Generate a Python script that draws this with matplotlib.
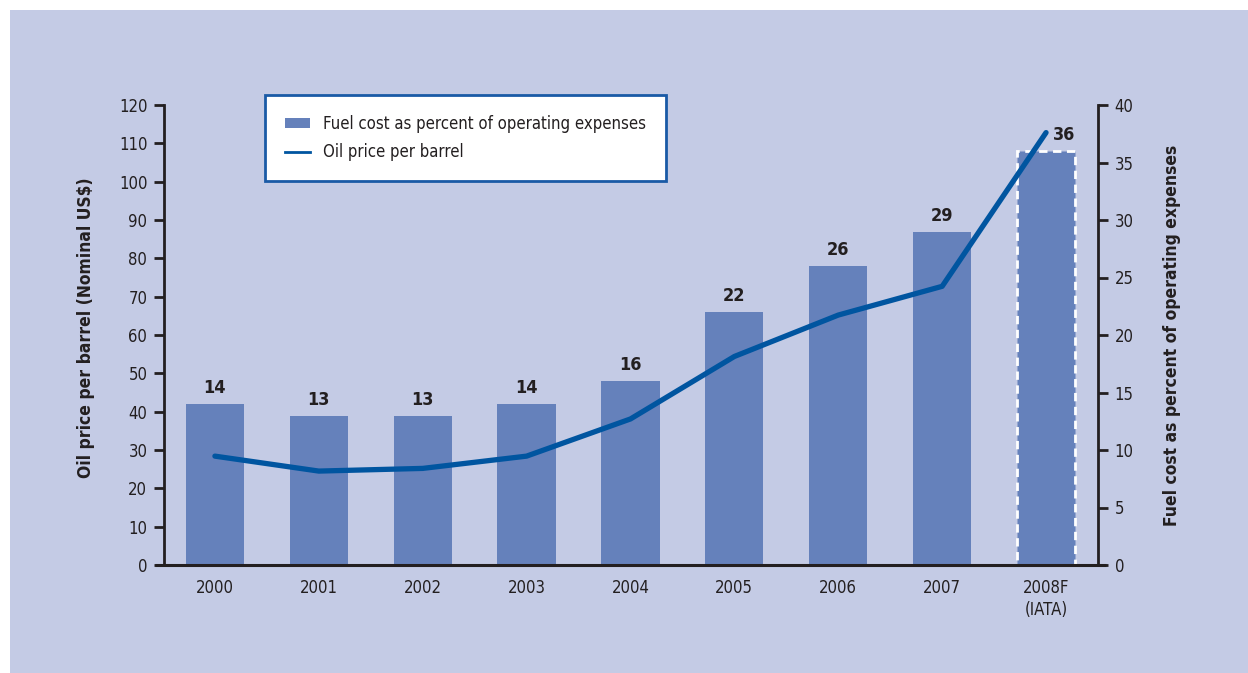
import matplotlib.pyplot as plt
from matplotlib.patches import Rectangle, Patch
from matplotlib.lines import Line2D

plt.rcParams['font.family'] = ['DejaVu Sans']
plt.rcParams['font.stretch'] = 'condensed'

years = ['2000', '2001', '2002', '2003', '2004', '2005', '2006', '2007', '2008F\n(IATA)']
fuel_pct = [14, 13, 13, 14, 16, 22, 26, 29, 36]
oil_price = [28.4, 24.5, 25.2, 28.4, 38.1, 54.4, 65.2, 72.7, 112.8]

bg = '#c4cbe5'
bar_col = '#6581bb'
line_col = '#0055a0'
ink = '#231f20'

fig = plt.figure(figsize=(12.48, 6.73), dpi=100)
fig.patch.set_facecolor('white')
fig.patches.append(Rectangle((10 / 1248, 0), 1, 1 - 10 / 673, transform=fig.transFigure,
                             facecolor=bg, edgecolor='none', zorder=-10))

ax = fig.add_axes([164 / 1248, 108 / 673, (1098 - 164) / 1248, (565 - 105) / 673])
ax.set_facecolor('none')
ax2 = ax.twinx()
ax2.set_zorder(0)
ax.set_zorder(1)

x = list(range(len(years)))

# bars on the right axis
bars = ax2.bar(x, fuel_pct, width=0.56, color=bar_col, zorder=1)
bars[-1].set_edgecolor('white')
bars[-1].set_linestyle((0, (3, 2)))
bars[-1].set_linewidth(2)
for xi, v in zip(x, fuel_pct):
    dx = 0.17 if xi == x[-1] else 0
    ax2.text(xi + dx, v + 0.6, str(v), ha='center', va='bottom', fontsize=13,
             fontweight='bold', color=ink)

ax.plot(x, oil_price, color=line_col, lw=3.8, solid_capstyle='round',
        solid_joinstyle='round', zorder=3)

ax.set_xlim(-0.49, 8.5)
ax.set_ylim(0, 120)
ax2.set_ylim(0, 40)
ax.set_yticks(range(0, 121, 10))
ax2.set_yticks(range(0, 41, 5))
ax.set_xticks(x)
ax.set_xticklabels(years, fontsize=12, color=ink, linespacing=1.3)
ax.tick_params(axis='x', length=0, pad=10)

for a in (ax, ax2):
    a.spines['top'].set_visible(False)
    a.tick_params(axis='y', length=7, width=2, color=ink, labelsize=12,
                  labelcolor=ink, pad=5)
ax.spines['right'].set_visible(False)
ax2.spines['left'].set_visible(False)
ax2.spines['bottom'].set_visible(False)
ax.spines['left'].set_linewidth(2)
ax.spines['left'].set_color(ink)
ax2.spines['right'].set_linewidth(2)
ax2.spines['right'].set_color(ink)
ax.spines['bottom'].set_visible(False)
# baseline extended to the outer tick ends
ax.plot([-0.58, 8.58], [0, 0], color=ink, lw=2.2, clip_on=False, zorder=4,
        solid_capstyle='butt')

ax.set_ylabel('Oil price per barrel (Nominal US$)', fontsize=12.5, fontweight='bold',
              color=ink)
ax.yaxis.set_label_coords(-69 / 934, (565 - 328) / 460)
ax2.set_ylabel('Fuel cost as percent of operating expenses', fontsize=12.5,
               fontweight='bold', color=ink, rotation=90, va='center')
ax2.yaxis.set_label_coords(1 + 74 / 934, 0.5)

handles = [Patch(facecolor=bar_col, edgecolor='none'),
           Line2D([0], [0], color=line_col, lw=2)]
leg = ax.legend(handles, ['Fuel cost as percent of operating expenses', 'Oil price per barrel'],
                loc='upper left', bbox_to_anchor=(101 / 934, 1.022), fontsize=12,
                frameon=True, fancybox=False, framealpha=1, borderpad=1.2,
                handlelength=1.5, handleheight=0.6, labelspacing=0.62,
                borderaxespad=0, handletextpad=0.8)
leg.get_frame().set_edgecolor('#1a5aa6')
leg.get_frame().set_linewidth(2)
for t in leg.get_texts():
    t.set_color(ink)

fig.savefig('out.png', dpi=100, facecolor=fig.get_facecolor())
